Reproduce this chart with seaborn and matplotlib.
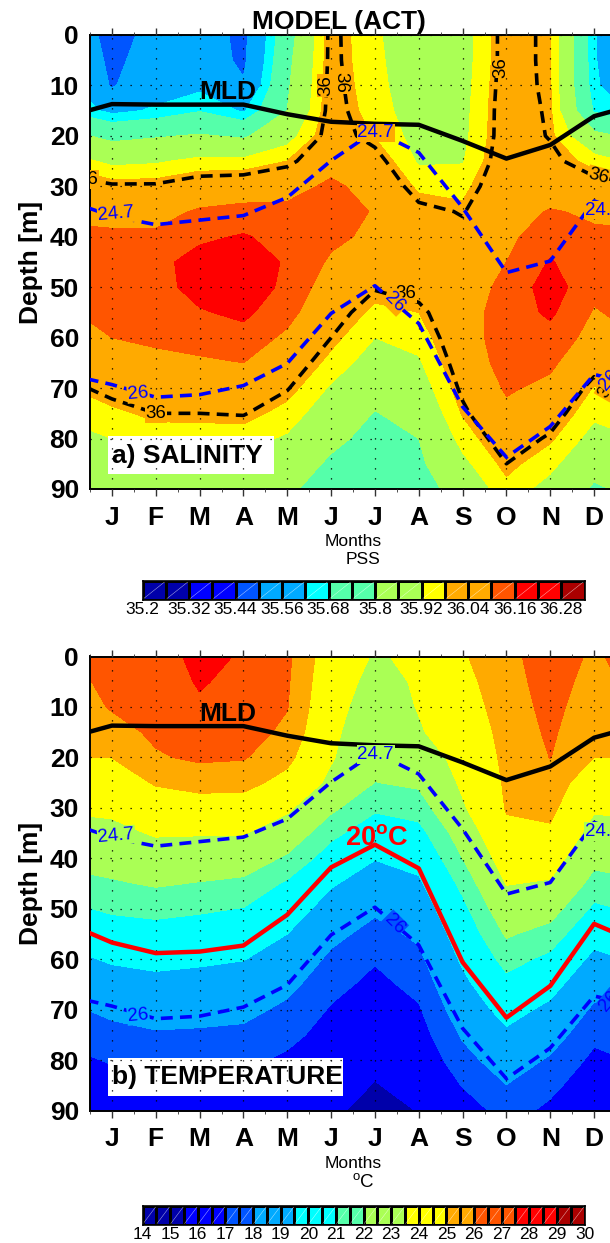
import numpy as np
import matplotlib
matplotlib.use("Agg")
import matplotlib.pyplot as plt
import seaborn as sns

month_labels = ["J", "F", "M", "A", "M", "J", "J", "A", "S", "O", "N", "D"]
depths = [0, 5, 10, 15, 20, 25, 30, 35, 40, 45, 50, 55, 60, 65, 70, 75, 80, 85, 90]

# salinity by month, top to bottom
sal_jan = [35.44, 35.47, 35.49, 35.60, 35.77, 35.90, 36.01, 36.08, 36.11, 36.13, 36.13, 36.12, 36.10, 36.07, 36.03, 35.96, 35.92, 35.88, 35.83]
sal_feb = [35.55, 35.56, 35.58, 35.63, 35.79, 35.91, 36.01, 36.07, 36.115, 36.145, 36.14, 36.125, 36.11, 36.085, 36.04, 36.00, 35.94, 35.89, 35.84]
sal_mar = [35.55, 35.56, 35.60, 35.675, 35.81, 35.94, 36.04, 36.11, 36.15, 36.18, 36.18, 36.155, 36.125, 36.09, 36.05, 36.00, 35.945, 35.89, 35.84]
sal_apr = [35.475, 35.48, 35.51, 35.61, 35.785, 35.94, 36.05, 36.125, 36.165, 36.185, 36.185, 36.172, 36.14, 36.10, 36.05, 36.005, 35.945, 35.89, 35.84]
sal_may = [35.75, 35.77, 35.785, 35.80, 35.885, 35.98, 36.07, 36.12, 36.14, 36.155, 36.15, 36.125, 36.085, 36.045, 36.005, 35.955, 35.91, 35.87, 35.83]
sal_jun = [36.02, 36.02, 36.025, 36.03, 36.035, 36.07, 36.115, 36.13, 36.115, 36.09, 36.06, 36.03, 36.00, 35.96, 35.91, 35.87, 35.83, 35.78, 35.72]
sal_jul = [35.93, 35.935, 35.94, 35.95, 35.975, 36.03, 36.07, 36.095, 36.085, 36.07, 36.005, 35.965, 35.92, 35.88, 35.84, 35.795, 35.76, 35.73, 35.70]
sal_aug = [35.87, 35.87, 35.875, 35.88, 35.89, 35.91, 35.965, 36.02, 36.06, 36.06, 36.03, 35.98, 35.945, 35.91, 35.875, 35.84, 35.80, 35.78, 35.75]
sal_sep = [35.883, 35.885, 35.89, 35.895, 35.90, 35.915, 35.96, 35.995, 36.02, 36.05, 36.07, 36.07, 36.06, 36.04, 36.015, 35.985, 35.945, 35.90, 35.85]
sal_oct = [36.03, 36.03, 36.035, 36.04, 36.04, 36.05, 36.06, 36.07, 36.085, 36.10, 36.115, 36.13, 36.14, 36.135, 36.11, 36.08, 36.04, 36.00, 35.96]
sal_nov = [35.985, 35.985, 35.985, 35.99, 35.995, 36.02, 36.06, 36.105, 36.135, 36.165, 36.19, 36.17, 36.14, 36.115, 36.08, 36.035, 35.99, 35.94, 35.89]
sal_dec = [35.63, 35.63, 35.64, 35.67, 35.83, 35.955, 36.03, 36.09, 36.11, 36.115, 36.115, 36.095, 36.075, 36.03, 35.975, 35.935, 35.89, 35.84, 35.784]

# temperature by month, top to bottom
tmp_jan = [26.6, 26.34, 26.09, 25.61, 25.01, 24.39, 23.77, 23.15, 22.52, 21.87, 21.17, 20.42, 19.65, 18.95, 18.26, 17.65, 17.09, 16.59, 16.1]
tmp_feb = [26.87, 26.64, 26.42, 26.19, 25.89, 25.10, 24.35, 23.62, 22.87, 22.12, 21.32, 20.56, 19.83, 19.15, 18.5, 17.88, 17.33, 16.8, 16.3]
tmp_mar = [27.9, 27.65, 27.28, 26.72, 26.17, 25.38, 24.48, 23.59, 22.76, 21.94, 21.16, 20.42, 19.7, 19.05, 18.43, 17.83, 17.31, 16.83, 16.3]
tmp_apr = [27.36, 27.04, 26.72, 26.4, 26.08, 25.34, 24.45, 23.57, 22.65, 21.76, 20.96, 20.25, 19.54, 18.93, 18.32, 17.74, 17.21, 16.74, 16.3]
tmp_may = [26.2, 26.12, 26.04, 25.79, 25.29, 24.63, 23.72, 22.79, 21.83, 20.84, 20.17, 19.5, 18.9, 18.31, 17.76, 17.27, 16.82, 16.41, 16.0]
tmp_jun = [24.3, 24.13, 23.96, 23.79, 23.62, 23.21, 22.23, 21.28, 20.44, 19.63, 18.96, 18.32, 17.77, 17.31, 16.91, 16.62, 16.33, 16.05, 15.76]
tmp_jul = [23.39, 23.11, 22.83, 22.55, 22.27, 21.98, 21.16, 20.35, 19.55, 18.87, 18.19, 17.62, 17.09, 16.73, 16.41, 16.09, 15.77, 15.44, 15.0]
tmp_aug = [23.71, 23.63, 23.56, 23.38, 22.79, 22.19, 21.46, 20.63, 19.93, 19.3, 18.76, 18.22, 17.73, 17.29, 16.89, 16.55, 16.22, 15.88, 15.55]
tmp_sep = [24.9, 24.7, 24.5, 24.2, 23.95, 23.7, 23.35, 22.6, 22.0, 21.3, 20.7, 20.2, 19.7, 19.18, 18.66, 18.13, 17.6, 17.05, 16.4]
tmp_oct = [25.65, 25.55, 25.45, 25.36, 25.26, 25.16, 25.07, 24.8, 24.17, 23.55, 22.84, 22.13, 21.39, 20.66, 19.96, 19.27, 18.62, 17.98, 17.44]
tmp_nov = [26.62, 26.47, 26.32, 26.17, 26.02, 25.66, 25.28, 24.82, 24.11, 23.37, 22.48, 21.59, 20.73, 19.95, 19.21, 18.52, 17.86, 17.28, 16.76]
tmp_dec = [25.8, 25.6, 25.4, 25.2, 25.0, 24.17, 23.66, 23.0, 22.33, 21.6, 20.79, 19.96, 19.19, 18.47, 17.8, 17.23, 16.75, 16.3, 15.9]

# line series, one depth per month
mld = [13.7, 13.8, 13.8, 13.8, 15.7, 17.2, 17.6, 17.8, 21.0, 24.5, 21.8, 16.1]
iso_247 = [35.9, 37.6, 36.7, 35.8, 32.2, 24.9, 19.0, 23.3, 34.2, 47.1, 44.8, 32.9]
iso_26 = [69.3, 71.8, 71.3, 69.5, 65.1, 55.2, 49.7, 57.2, 73.7, 83.7, 77.6, 67.3]
iso_20c = [56.7, 58.8, 58.5, 57.3, 51.2, 41.8, 37.3, 42.0, 60.6, 71.6, 65.3, 53.0]

# colour bars
sal_levels = [35.2, 35.26, 35.32, 35.38, 35.44, 35.5, 35.56, 35.62, 35.68, 35.74, 35.8,
              35.86, 35.92, 35.98, 36.04, 36.1, 36.16, 36.22, 36.28, 36.34]
sal_ticks = ["35.2", "35.32", "35.44", "35.56", "35.68", "35.8", "35.92", "36.04", "36.16", "36.28"]
tmp_levels = [14 + 0.5 * i for i in range(33)]
tmp_ticks = [str(v) for v in range(14, 31)]

navy, blue, royal, sky, cyan = "#0000aa", "#0000ff", "#0055ff", "#00aaff", "#00ffff"
mint, lime, yellow, orange = "#55ffaa", "#aaff55", "#ffff00", "#ffaa00"
tangerine, red, maroon = "#ff5500", "#ff0000", "#aa0000"
sal_colors = [navy] * 2 + [blue] * 2 + [royal] + [sky] * 2 + [cyan] + [mint] * 2 + [lime] * 2 + \
    [yellow] + [orange] * 2 + [tangerine] + [red] * 2 + [maroon]
tmp_colors = [navy] * 3 + [blue] * 3 + [royal] * 2 + [sky] * 3 + [cyan] * 3 + [mint] * 2 + [lime] * 3 + \
    [yellow] * 3 + [orange] * 2 + [tangerine] * 3 + [red] * 3 + [maroon] * 2

sns.set_theme(style="ticks")
plt.rcParams["font.family"] = ["Liberation Sans", "DejaVu Sans"]
plt.rcParams["mathtext.fontset"] = "custom"
plt.rcParams["mathtext.rm"] = "Liberation Sans"
plt.rcParams["mathtext.bf"] = "Liberation Sans:bold"
plt.rcParams["text.color"] = "black"
plt.rcParams["axes.labelcolor"] = "black"
plt.rcParams["xtick.labelcolor"] = "black"
plt.rcParams["ytick.labelcolor"] = "black"

W, H = 610, 1243
DASH = (0, (3.3, 2.0))
LW_DASH = 2.6


def wrap(series):
    # the year repeats, so Dec sits left of Jan and Jan right of Dec
    return [series[11]] + list(series) + [series[0]]


def axes_px(x0, y0, x1, y1):
    return fig.add_axes([x0 / W, 1 - y1 / H, (x1 - x0) / W, (y1 - y0) / H])


def draw_line(ax, series, color, dashed=True, lw=LW_DASH):
    sns.lineplot(x=x_wrap, y=wrap(series), ax=ax, color=color, linewidth=lw, sort=False,
                 estimator=None, legend=False, linestyle=DASH if dashed else "-", zorder=4)


def label(ax, x, y, s, color, rot=0, bg=None):
    box = dict(facecolor=bg, edgecolor="none", pad=0.6) if bg else None
    ax.text(x, y, s, color=color, fontsize=13.5, rotation=rot, rotation_mode="anchor",
            ha="center", va="center", bbox=box, clip_on=True, zorder=5)


def draw_panel(top, field, levels, colors, name, box_x1):
    ax = axes_px(90, top, 616, top + 454)
    grid = np.column_stack([field[-1]] + field + [field[0]])
    ax.contourf(x_wrap, depths, grid, levels=levels, colors=colors, zorder=1)
    ax.set_xlim(-0.5, 11.5)
    ax.set_ylim(90, 0)
    ax.set_xticks(range(12))
    ax.set_xticklabels(month_labels, fontsize=19, fontweight="bold")
    ax.set_xticks(np.arange(-0.5, 12, 0.5), minor=True)
    ax.set_yticks(range(0, 100, 10))
    ax.set_yticklabels([str(v) for v in range(0, 100, 10)], fontsize=19, fontweight="bold")
    ax.tick_params(axis="x", which="major", top=True, bottom=True, direction="out", length=5, width=1,
                   pad=7, color="#333333")
    ax.tick_params(axis="x", which="minor", top=True, bottom=True, direction="out", length=2, width=0.6,
                   color="#333333")
    ax.tick_params(axis="y", which="major", length=0, pad=8)
    ax.grid(True, which="major", color="black", linestyle=(0, (1, 7)), linewidth=0.9)
    ax.set_axisbelow(False)
    for s in ax.spines.values():
        s.set_linewidth(1.4)
        s.set_color("black")
    ax.set_ylabel("Depth [m]", fontsize=19, fontweight="bold", labelpad=5)

    draw_line(ax, iso_247, "#0000ff")
    draw_line(ax, iso_26, "#0000ff")
    draw_line(ax, mld, "black", dashed=False, lw=3.2)
    ax.text(2.65, 11.3, "MLD", fontsize=19, fontweight="bold", ha="center", va="center", zorder=6)

    # white label box over the lower left corner
    lx0 = (108 - 90) / 43.8 - 0.5
    ax.axvspan(lx0, (box_x1 - 90) / 43.8 - 0.5, ymin=(90 - 87.1) / 90, ymax=(90 - 79.5) / 90,
               facecolor="white", edgecolor="none", zorder=2.1)
    ax.text(lx0 + 4 / 43.8, 83.4, name, fontsize=19, fontweight="bold", ha="left", va="center", zorder=2.2)
    return ax


def draw_bar(top, colors, ticks, every):
    ax = axes_px(142.5, top, 584.5, top + 18.5)
    n = len(colors)
    cells = [list(range(n))]
    sns.heatmap(cells, ax=ax, cmap=matplotlib.colors.ListedColormap(colors), cbar=False, vmin=-0.5, vmax=n - 0.5,
                linewidths=0.8, linecolor="black", xticklabels=False, yticklabels=False)
    for i in range(n):
        ax.plot([i + 0.05, i + 0.95], [0.95, 0.05], color="white", lw=0.35, alpha=0.7)
    ax.set_xticks(np.arange(0, n + 1, every))
    ax.set_xticklabels(ticks, fontsize=12.5, rotation=0)
    ax.tick_params(axis="x", length=0, pad=2)
    for s in ax.spines.values():
        s.set_visible(True)
        s.set_linewidth(1.2)
        s.set_color("black")
    return ax


x_wrap = [-1] + list(range(12)) + [12]
sal_field = [sal_jan, sal_feb, sal_mar, sal_apr, sal_may, sal_jun, sal_jul, sal_aug, sal_sep, sal_oct, sal_nov, sal_dec]
tmp_field = [tmp_jan, tmp_feb, tmp_mar, tmp_apr, tmp_may, tmp_jun, tmp_jul, tmp_aug, tmp_sep, tmp_oct, tmp_nov, tmp_dec]

fig = plt.figure(figsize=(W / 100, H / 100), dpi=100, facecolor="white")

# a) salinity
ax_a = draw_panel(35, sal_field, sal_levels, sal_colors, "a) SALINITY", 274)
grid_a = np.column_stack([sal_dec] + sal_field + [sal_jan])
ax_a.contour(x_wrap, depths, grid_a, levels=[36.0], colors="black", linewidths=LW_DASH, linestyles=[DASH], zorder=3)
fig.text(339 / W, 1 - 22 / H, "MODEL (ACT)", fontsize=19, fontweight="bold", ha="center", va="center")
fig.text(353 / W, 1 - 542 / H, "Months", fontsize=12.5, ha="center", va="center")
fig.text(363 / W, 1 - 560 / H, "PSS", fontsize=12.5, ha="center", va="center")
label(ax_a, 4.88, 10, "36", "black", 90, orange)
label(ax_a, 5.22, 9.5, "36", "black", -90, orange)
label(ax_a, 8.87, 6.4, "36", "black", 90, orange)
label(ax_a, 11.1, 28, "36", "black", -15, orange)
label(ax_a, -0.55, 28.6, "36", "black", 0, orange)
label(ax_a, 6.7, 51.3, "36", "black", 0, orange)
label(ax_a, 1.0, 75, "36", "black", 0, orange)
label(ax_a, 11.3, 70, "36", "black", 60, orange)
label(ax_a, 0.1, 35.5, "24.7", "#0000ff", 5, orange)
label(ax_a, 6.02, 19.4, "24.7", "#0000ff", 0, orange)
label(ax_a, 11.2, 34.7, "24.7", "#0000ff", 0, orange)
label(ax_a, 6.45, 53, "26", "#0000ff", -45, orange)
label(ax_a, 0.6, 71.1, "26", "#0000ff", 5, orange)
label(ax_a, 11.35, 68.4, "26", "#0000ff", 50, orange)
draw_bar(581, sal_colors, sal_ticks, 2)

# b) temperature
ax_b = draw_panel(656.5, tmp_field, tmp_levels, tmp_colors, "b) TEMPERATURE", 343)
draw_line(ax_b, iso_20c, "#ff0000", dashed=False, lw=3.2)
ax_b.text(6.05, 36, r"$\mathbf{20^{o}C}$", color="#ff0000", fontsize=19.5, ha="center", va="center", zorder=6)
fig.text(353 / W, 1 - 1163 / H, "Months", fontsize=12.5, ha="center", va="center")
fig.text(363 / W, 1 - 1182 / H, r"$\mathregular{^{o}C}$", fontsize=13.5, ha="center", va="center")
label(ax_b, 0.1, 35.5, "24.7", "#0000ff", 5, lime)
label(ax_b, 6.02, 19.4, "24.7", "#0000ff", 0, lime)
label(ax_b, 11.2, 34.7, "24.7", "#0000ff", 0, lime)
label(ax_b, 6.45, 53, "26", "#0000ff", -45, royal)
label(ax_b, 0.6, 71.2, "26", "#0000ff", 5, sky)
label(ax_b, 11.35, 68.4, "26", "#0000ff", 50, royal)
draw_bar(1206, tmp_colors, tmp_ticks, 2)

fig.savefig("out.png", dpi=100)
